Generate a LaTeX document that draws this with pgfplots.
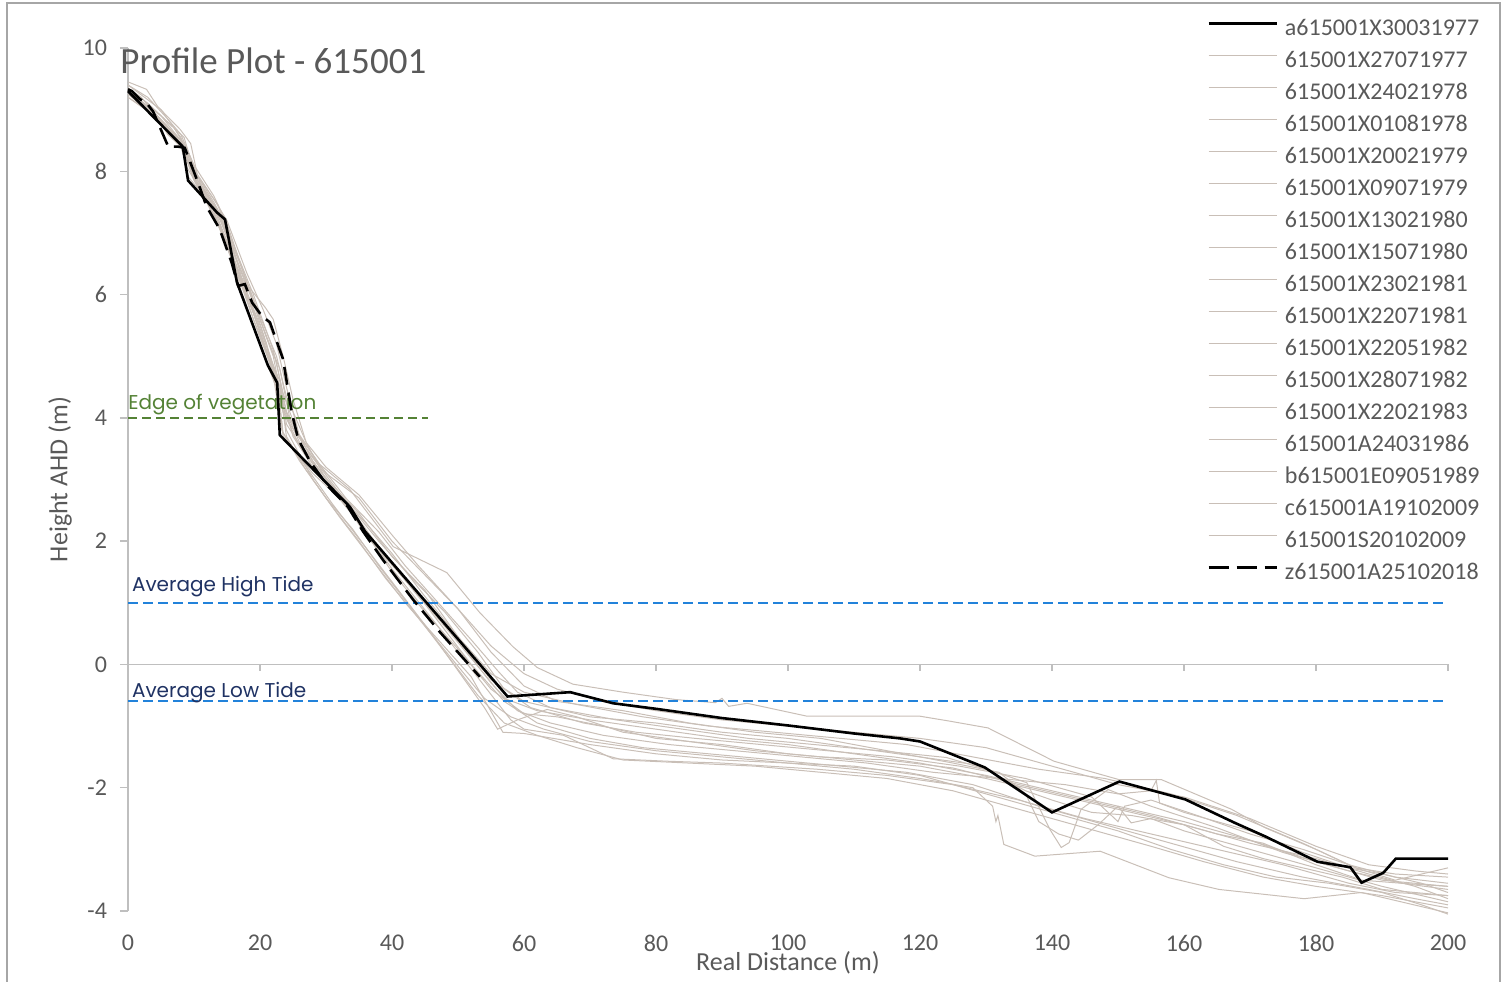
\documentclass[border=0pt]{standalone}
\usepackage{pgfplots}
\pgfplotsset{compat=1.18}
\usepackage{fontspec}
\setmainfont{Carlito}
\newfontfamily\annfont{Poppins}
\definecolor{axisgray}{RGB}{191,191,191}
\definecolor{txtgray}{RGB}{89,89,89}
\definecolor{profgray}{RGB}{201,191,183}
\definecolor{tideblue}{RGB}{34,130,218}
\definecolor{navy}{RGB}{31,50,99}
\definecolor{veggreen}{RGB}{84,130,53}
\definecolor{framegray}{RGB}{166,166,166}

\pgfplotstableread{
x y
0 9.30
8.3 8.40
9.1 7.85
13.5 7.33
14.7 7.22
16.5 6.20
21.2 4.85
22.6 4.57
23.0 3.72
29.1 3.05
33.6 2.56
35.9 2.16
57.5 -0.52
67.0 -0.45
73.5 -0.63
80 -0.72
90 -0.87
100 -0.99
110 -1.12
117 -1.20
120 -1.25
129.8 -1.67
140 -2.40
150.2 -1.90
160.2 -2.19
167.7 -2.57
172.3 -2.79
180.2 -3.20
185.2 -3.29
186.9 -3.54
190.2 -3.38
192.1 -3.15
200 -3.15
}\tblA

\pgfplotstableread{
x y
0 9.33
0.6 9.30
1.8 9.17
2.8 9.11
3.8 8.97
6.1 8.40
7.6 8.40
8.6 8.38
10.6 7.82
11.9 7.43
13.9 7.06
15.7 6.52
16.7 6.14
17.7 6.17
18.8 5.87
20.3 5.65
21.5 5.55
23.5 4.95
24.8 4.09
25.8 3.65
27.6 3.29
30.3 2.89
33.3 2.56
35.6 2.16
38.6 1.70
43.2 1.05
47.3 0.52
53.3 -0.20
}\tblZ

\pgfplotstableread{
x y
0 9.45
2.8 9.33
4.5 9.05
7.9 8.68
9.5 8.45
10.5 7.95
13 7.55
15 7.2
18 6.35
20.5 5.75
22.5 5.2
24 4.5
26 3.7
29 3.25
33.6 2.84
40.2 1.91
48.3 1.49
53.3 0.84
58.3 0.29
62 -0.05
67.4 -0.32
75 -0.45
83 -0.57
89 -0.62
90 -0.55
91 -0.68
93.8 -0.63
102.9 -0.84
120 -0.84
124.5 -0.92
130.3 -1.03
140.3 -1.57
150.2 -1.87
156.6 -1.87
167.2 -2.35
172.3 -2.65
180 -3.0
186 -3.3
192 -3.4
200 -3.45
}\gA

\pgfplotstableread{
x y
0 9.3
3 9.05
8 8.45
9.2 7.9
13.5 7.35
15 7.0
17 6.1
21 4.9
22.8 4.4
23.5 3.7
28 3.1
33 2.6
36 2.1
45 1.0
52 0.1
57 -0.55
62 -0.75
70 -0.9
80 -1.05
90 -1.2
100 -1.3
110 -1.45
120 -1.6
130 -1.8
140 -2.05
150 -2.3
160 -2.55
170 -2.85
180 -3.2
190 -3.5
200 -3.6
}\gB

\pgfplotstableread{
x y
0 9.25
4 8.95
8 8.5
10 7.95
14 7.3
16 6.6
19 5.6
22 4.8
23.5 4.1
26 3.55
30 2.95
35 2.3
40 1.55
46 0.75
50 0.2
54 -0.35
58 -0.9
60 -1.05
66 -1.15
73.5 -1.53
81.7 -1.57
90 -1.6
104.4 -1.70
115 -1.8
125 -1.95
135 -2.2
145 -2.5
155 -2.75
165 -3.0
175 -3.25
185 -3.55
192 -3.7
200 -3.75
}\gC

\pgfplotstableread{
x y
0 9.35
3 9.1
6 8.8
8.5 8.55
10 8.0
13.6 7.46
15.5 6.9
18 6.0
21 5.1
23 4.6
24 3.9
27 3.4
31 2.9
35 2.45
40 1.75
45 1.2
50 0.45
55 -0.25
60 -0.6
70 -0.85
80 -0.95
90 -1.1
100 -1.2
110 -1.35
120 -1.5
128 -1.62
136.2 -1.92
139.7 -2.68
141.4 -2.97
142.6 -2.89
144.4 -2.35
148.5 -2.03
155 -2.3
165 -2.65
175 -3.05
185 -3.35
193 -3.55
200 -3.65
}\gD

\pgfplotstableread{
x y
0 9.2
4 8.9
8 8.4
10 7.9
14 7.1
17 6.3
20 5.4
23 4.4
24 3.8
28 3.0
32 2.4
37 1.7
42 1.0
47 0.4
52 -0.2
56.8 -1.10
60 -1.12
70 -1.3
80 -1.45
90 -1.55
100 -1.6
110 -1.7
120 -1.85
128 -2.0
131 -2.3
131.5 -2.55
131.8 -2.45
132.7 -2.92
137.4 -3.11
147.3 -3.03
157.7 -3.46
165.3 -3.65
178.2 -3.80
186.9 -3.70
200 -4.03
}\gE

\pgfplotstableread{
x y
0 9.4
3 9.2
6 8.85
8 8.6
10 8.1
13 7.6
15 7.15
18 6.2
21 5.3
23 4.8
24.5 4.0
27 3.5
30 3.1
35 2.7
40 2.0
45 1.45
50 0.9
55 0.2
60 -0.35
65 -0.6
75 -0.75
85 -0.95
95 -1.1
105 -1.2
115 -1.4
125 -1.6
132 -1.75
136 -2.1
138 -2.55
141 -2.75
144 -2.85
147 -2.6
150 -2.3
152 -2.57
155 -2.5
160 -2.7
170 -3.0
180 -3.3
190 -3.6
200 -3.85
}\gF

\pgfplotstableread{
x y
0 9.3
5 8.9
8 8.5
10 7.9
13 7.45
16 6.7
19 5.9
22 5.0
23.5 4.2
26 3.6
30 3.0
34 2.5
38 1.9
44 1.1
50 0.4
55 -0.3
59 -0.75
64 -0.95
72 -1.15
82 -1.3
92 -1.4
102 -1.5
112 -1.6
122 -1.75
132 -1.85
142 -1.95
150 -2.1
155 -2.05
155.8 -1.88
156.3 -2.25
160 -2.4
170 -2.7
178 -3.05
185 -3.3
190 -3.4
196 -3.55
200 -3.7
}\gG

\pgfplotstableread{
x y
0 9.35
2 9.2
4 8.95
6 8.6
8 8.4
9 8.05
12 7.5
14 7.1
17 6.3
20.8 5.79
22 5.6
23.5 5.0
25 4.3
27 3.6
30 3.0
35 2.3
40 1.5
45 0.85
50 0.25
55 -0.4
60 -0.8
65 -0.85
72 -1.0
80 -1.2
90 -1.3
100 -1.45
110 -1.55
120 -1.65
130 -1.85
140 -2.1
150 -2.35
160 -2.6
170 -2.9
180 -3.15
188 -3.4
195 -3.6
200 -3.8
}\gH

\pgfplotstableread{
x y
0 9.25
4 8.95
8 8.5
10 7.9
13 7.4
16 6.6
20 5.5
22.5 4.7
23.5 3.75
27 3.2
31 2.6
36 1.9
41 1.2
46 0.5
50 -0.1
54 -0.7
56 -1.05
59 -0.9
63.5 -0.73
68 -0.85
75 -1.1
85 -1.25
95 -1.4
105 -1.5
115 -1.55
125 -1.68
135 -1.95
145 -2.2
155 -2.45
165 -2.75
172 -2.9
180 -3.25
187 -3.5
193 -3.55
200 -3.6
}\gI

\pgfplotstableread{
x y
0 9.3
4 8.95
8 8.45
10 7.9
14 7.2
17 6.4
20 5.6
22.5 4.9
24 4.1
28 3.3
32 2.75
36 2.3
40 1.8
45 1.1
50 0.45
55 -0.15
60 -0.45
68 -0.65
78 -0.85
88 -1.0
98 -1.1
108 -1.2
118 -1.3
128 -1.5
138 -1.7
148 -1.85
158 -2.1
168 -2.45
178 -2.9
186 -3.3
192 -3.5
200 -3.3
}\gJ

\pgfplotstableread{
x y
0 9.2
3 9.0
7 8.6
9 8.3
10.5 7.8
14 7.05
17 6.2
20 5.3
23 4.5
25 3.7
28 3.2
32 2.7
37 2.05
42 1.4
47 0.7
52 0.0
57 -0.6
62 -0.95
70 -1.2
78 -1.35
88 -1.45
98 -1.55
108 -1.65
118 -1.75
128 -1.95
138 -2.3
148 -2.6
158 -2.9
168 -3.2
178 -3.45
188 -3.65
195 -3.8
200 -3.9
}\gK

\pgfplotstableread{
x y
0 9.4
5 9.0
8 8.55
10 8.0
13 7.5
15 7.1
18 6.2
21 5.2
23 4.3
24.5 3.9
28 3.35
33 2.65
38 2.0
43 1.4
48 0.85
53 0.2
57 -0.4
61 -0.7
69 -0.95
77 -1.1
86 -1.2
96 -1.3
106 -1.4
116 -1.5
126 -1.65
136 -1.85
146 -2.15
150 -2.55
151 -2.3
155 -2.2
162 -2.45
170 -2.75
178 -3.0
185 -3.25
192 -3.45
200 -3.55
}\gL

\pgfplotstableread{
x y
0 9.3
3 9.05
8 8.5
10 7.95
14 7.25
17 6.5
20 5.65
22.5 5.0
24 4.35
27 3.6
30 3.2
35 2.75
40 2.1
44 1.6
50 0.9
55 0.3
60 -0.15
65 -0.4
72 -0.6
80 -0.75
90 -0.9
100 -1.0
110 -1.1
120 -1.2
130 -1.35
140 -1.65
150 -1.95
160 -2.15
170 -2.5
180 -2.95
188 -3.25
195 -3.35
200 -3.4
}\gM

\pgfplotstableread{
x y
0 9.3
4 8.9
8 8.45
10 7.85
13 7.3
16 6.5
19 5.7
22 4.7
23.3 3.8
26 3.3
30 2.7
34 2.2
38 1.6
43 0.9
48 0.2
53 -0.5
57 -0.95
62 -1.15
68 -1.35
75 -1.55
85 -1.6
95 -1.65
105 -1.75
115 -1.85
125 -2.05
135 -2.35
145 -2.65
155 -2.95
163 -3.2
172 -3.45
180 -3.6
190 -3.75
200 -3.95
}\gN

\pgfplotstableread{
x y
0 9.35
3 9.1
7 8.7
9 8.35
11 7.8
14 7.3
16 6.8
19 6.0
22 5.1
23.5 4.4
25.5 3.8
29 3.25
33 2.7
38 2.15
42 1.6
47 1.0
52 0.4
56 -0.1
59 -0.45
64 -0.7
74 -0.9
84 -1.05
94 -1.2
104 -1.3
114 -1.4
124 -1.51
130 -1.7
136 -2.05
140 -2.2
146 -2.4
152 -2.45
160 -2.6
166 -2.95
172 -3.15
178 -3.3
184 -3.45
190 -3.65
200 -3.75
}\gO

\pgfplotstableread{
x y
0 9.25
3 9.0
6 8.7
8 8.5
10 7.9
13 7.35
16 6.55
19 5.75
21.5 5.0
23 4.5
24 3.7
27 3.15
31 2.55
35 2.0
39 1.4
44 0.75
49 0.1
54 -0.55
58 -0.85
63 -1.05
70 -1.25
80 -1.4
90 -1.5
100 -1.6
110 -1.65
120 -1.8
130 -2.1
140 -2.4
150 -2.7
158 -3.0
166 -3.25
174 -3.45
182 -3.55
190 -3.7
196 -3.9
200 -4.05
}\gP

\begin{document}
\begin{tikzpicture}
\useasboundingbox (0,0) rectangle (751pt,490.5pt);
\draw[framegray, line width=0.6pt] (3.5pt,-10pt) rectangle (750pt,489pt);
\begin{axis}[
  at={(64pt,35pt)}, anchor=south west,
  scale only axis, width=660pt, height=431.5pt,
  xmin=0, xmax=200, ymin=-4, ymax=10,
  axis lines*=left,
  x axis line style={draw=none},
  y axis line style={axisgray, line width=0.75pt},
  xtick={0,20,...,200}, ytick={-4,-2,...,10},
  xtick style={draw=none},
  ytick style={axisgray, line width=0.75pt},
  tick align=outside, major tick length=4pt,
  ticklabel style={font=\fontsize{12}{14}\selectfont, text=txtgray},
  /pgf/number format/assume math mode=true,
  xticklabel style={yshift=-4.5pt},
  yticklabel style={xshift=-3pt},
  xlabel={Real Distance (m)}, ylabel={Height AHD (m)},
  every axis x label/.style={at={(axis description cs:0.5,-0.0603)}, anchor=center, font=\fontsize{13}{15}\selectfont, text=txtgray},
  every axis y label/.style={at={(axis description cs:-0.0515,0.5)}, anchor=center, rotate=90, font=\fontsize{13}{15}\selectfont, text=txtgray},
  clip=false,
  legend style={at={(axis description cs:0.8174,1.0387)}, anchor=north west, draw=none, fill=none,
    inner sep=0pt, row sep=0pt, column sep=3.5pt,
    font=\fontsize{12}{14}\selectfont,
    nodes={inner sep=0pt, text height=10pt, text depth=6pt, text=txtgray}},
  legend cell align=left,
  legend image code/.code={\draw[#1] (0pt,3.8pt) -- (34pt,3.8pt);},
]
\addlegendimage{black, line width=1.3pt}\addlegendentry{a615001X30031977}
\addlegendimage{profgray, line width=0.6pt}\addlegendentry{615001X27071977}
\addlegendimage{profgray, line width=0.6pt}\addlegendentry{615001X24021978}
\addlegendimage{profgray, line width=0.6pt}\addlegendentry{615001X01081978}
\addlegendimage{profgray, line width=0.6pt}\addlegendentry{615001X20021979}
\addlegendimage{profgray, line width=0.6pt}\addlegendentry{615001X09071979}
\addlegendimage{profgray, line width=0.6pt}\addlegendentry{615001X13021980}
\addlegendimage{profgray, line width=0.6pt}\addlegendentry{615001X15071980}
\addlegendimage{profgray, line width=0.6pt}\addlegendentry{615001X23021981}
\addlegendimage{profgray, line width=0.6pt}\addlegendentry{615001X22071981}
\addlegendimage{profgray, line width=0.6pt}\addlegendentry{615001X22051982}
\addlegendimage{profgray, line width=0.6pt}\addlegendentry{615001X28071982}
\addlegendimage{profgray, line width=0.6pt}\addlegendentry{615001X22021983}
\addlegendimage{profgray, line width=0.6pt}\addlegendentry{615001A24031986}
\addlegendimage{profgray, line width=0.6pt}\addlegendentry{b615001E09051989}
\addlegendimage{profgray, line width=0.6pt}\addlegendentry{c615001A19102009}
\addlegendimage{profgray, line width=0.6pt}\addlegendentry{615001S20102009}
\addlegendimage{black, line width=1.3pt, dash pattern=on 10pt off 4pt}\addlegendentry{z615001A25102018}

% x axis line at y = 0 with ticks
\draw[axisgray, line width=0.75pt] (axis cs:0,0) -- (axis cs:200,0);
\pgfplotsinvokeforeach{0,20,...,200}{\draw[axisgray, line width=0.75pt] (axis cs:#1,0) -- ([yshift=-3.5pt]axis cs:#1,0);}

\addplot[profgray, line width=0.5pt, forget plot] table[x=x,y=y] {\gA};
\addplot[profgray, line width=0.5pt, forget plot] table[x=x,y=y] {\gB};
\addplot[profgray, line width=0.5pt, forget plot] table[x=x,y=y] {\gC};
\addplot[profgray, line width=0.5pt, forget plot] table[x=x,y=y] {\gD};
\addplot[profgray, line width=0.5pt, forget plot] table[x=x,y=y] {\gE};
\addplot[profgray, line width=0.5pt, forget plot] table[x=x,y=y] {\gF};
\addplot[profgray, line width=0.5pt, forget plot] table[x=x,y=y] {\gG};
\addplot[profgray, line width=0.5pt, forget plot] table[x=x,y=y] {\gH};
\addplot[profgray, line width=0.5pt, forget plot] table[x=x,y=y] {\gI};
\addplot[profgray, line width=0.5pt, forget plot] table[x=x,y=y] {\gJ};
\addplot[profgray, line width=0.5pt, forget plot] table[x=x,y=y] {\gK};
\addplot[profgray, line width=0.5pt, forget plot] table[x=x,y=y] {\gL};
\addplot[profgray, line width=0.5pt, forget plot] table[x=x,y=y] {\gM};
\addplot[profgray, line width=0.5pt, forget plot] table[x=x,y=y] {\gN};
\addplot[profgray, line width=0.5pt, forget plot] table[x=x,y=y] {\gO};
\addplot[profgray, line width=0.5pt, forget plot] table[x=x,y=y] {\gP};

% reference levels
\addplot[veggreen, line width=0.75pt, dash pattern=on 4.5pt off 2.5pt, forget plot] coordinates {(0,4) (45.5,4)};
\addplot[tideblue, line width=1pt, dash pattern=on 5pt off 2.5pt, forget plot] coordinates {(0,1) (200,1)};
\addplot[tideblue, line width=1pt, dash pattern=on 5pt off 2.5pt, forget plot] coordinates {(0,-0.6) (200,-0.6)};
\node[anchor=base west, inner sep=0pt, text=veggreen, font=\annfont\fontsize{10}{12}\selectfont] at (axis cs:0,4.14) {Edge of vegetation};
\node[anchor=base west, inner sep=0pt, text=navy, font=\annfont\fontsize{10}{12}\selectfont] at (axis cs:0.55,1.19) {Average High Tide};
\node[anchor=base west, inner sep=0pt, text=navy, font=\annfont\fontsize{10}{12}\selectfont] at (axis cs:0.55,-0.54) {Average Low Tide};

\addplot[black, line width=1.3pt, forget plot] table[x=x,y=y] {\tblA};
\addplot[black, line width=1.3pt, dash pattern=on 9pt off 4pt, forget plot] table[x=x,y=y] {\tblZ};
\end{axis}
\node[anchor=base west, inner sep=0pt, text=txtgray, font=\fontsize{18.5}{20}\selectfont] at (60pt,453.5pt) {Profile Plot - 615001};
\end{tikzpicture}
\end{document}
